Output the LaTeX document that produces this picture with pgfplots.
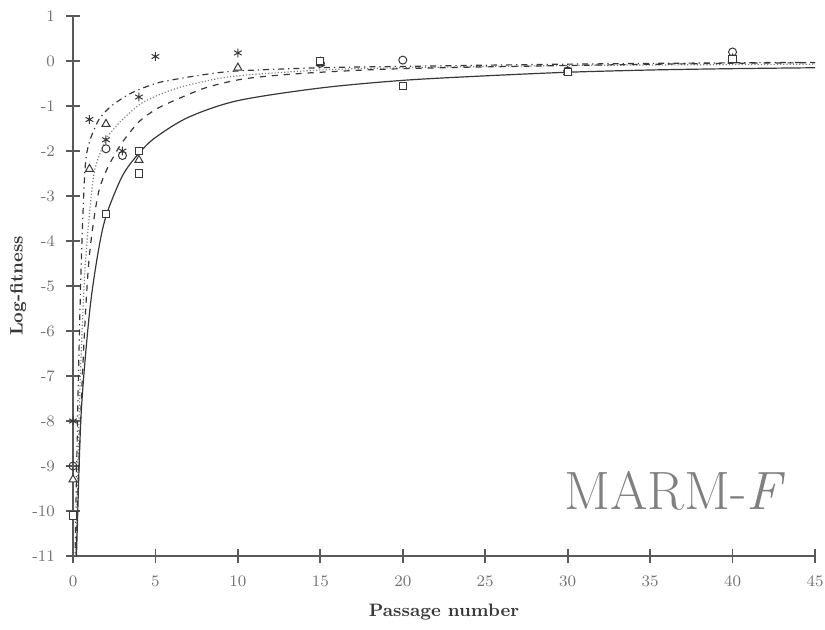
\documentclass[border=0pt]{standalone}
\usepackage{pgfplots}
\pgfplotsset{compat=1.18}
\usetikzlibrary{calc}
\definecolor{ink}{gray}{0.22}
\definecolor{axisgray}{gray}{0.35}
\definecolor{labelgray}{gray}{0.45}
\definecolor{tagcol}{gray}{0.5}

\begin{document}
\begin{tikzpicture}
\begin{axis}[
    name=ax,
    scale only axis,
    width=371pt, height=270pt,
    xmin=0, xmax=45, ymin=-11, ymax=1,
    axis x line=bottom, axis y line=left,
    axis line style={-, line width=1.2pt, axisgray},
    xtick={0,5,...,45}, ytick={-11,-10,...,1},
    yticklabels={-11,-10,-9,-8,-7,-6,-5,-4,-3,-2,-1,0,1},
    tick align=center, major tick length=7pt,
    tick style={line width=0.9pt, axisgray},
    tick label style={font=\footnotesize, text=labelgray},
    xticklabel style={yshift=-3pt},
    yticklabel style={xshift=-2pt},
    xlabel={\textbf{Passage number}},
    ylabel={\textbf{Log-fitness}},
    every axis x label/.style={at={(axis description cs:0.5,-0.104)}, anchor=center},
    every axis y label/.style={at={(axis description cs:-0.074,0.5)}, rotate=90, anchor=center},
    label style={font=\small, text=ink},
    every axis plot/.append style={ink, line width=0.6pt},
    mark options={solid, fill=white, line width=0.5pt},
]
% fitted curves
\addplot[dash dot, smooth, no markers] coordinates {
    (0.1,-11.5) (0.15,-10.5) (0.3,-7.5) (0.5,-4.5) (0.73,-2.4) (1,-1.8)
    (1.5,-1.35) (1.9,-1.15) (2.5,-0.95) (3.6,-0.7) (5,-0.5) (6,-0.42)
    (8,-0.3) (10,-0.22) (15,-0.15) (20,-0.12) (30,-0.07) (40,-0.04) (45,-0.03)
};
\addplot[densely dotted, smooth, no markers, gray] coordinates {
    (0.12,-11.5) (0.2,-10.6) (0.4,-7.5) (0.7,-4.8) (1,-3.4) (1.33,-2.4)
    (2,-1.75) (2.5,-1.5) (3,-1.3) (4.2,-0.93) (6,-0.64) (8,-0.45)
    (10,-0.33) (15,-0.2) (20,-0.15) (30,-0.1) (40,-0.08) (45,-0.07)
};
\addplot[dashed, smooth, no markers] coordinates {
    (0.15,-11.5) (0.2,-10.8) (0.4,-8.5) (0.7,-6) (1,-4.3) (1.5,-3.0)
    (2,-2.45) (2.5,-2.1) (3,-1.8) (4,-1.35) (5,-1.08) (6,-0.9) (8,-0.6)
    (10,-0.42) (12,-0.33) (15,-0.25) (20,-0.17) (30,-0.1) (40,-0.05) (45,-0.04)
};
\addplot[solid, smooth, no markers] coordinates {
    (0.18,-11.5) (0.25,-10.5) (0.5,-7.8) (1,-5.6) (1.5,-4.3) (2,-3.45)
    (3,-2.55) (4,-2.05) (5,-1.7) (7,-1.25) (10,-0.88) (15,-0.6) (20,-0.43)
    (25,-0.33) (30,-0.25) (35,-0.2) (40,-0.17) (45,-0.15)
};
% observations
\addplot[only marks, mark=asterisk, mark size=2.2pt] coordinates {
    (0,-8) (1,-1.3) (2,-1.75) (3,-2.0) (4,-0.8) (5,0.1) (10,0.18)
    (15,0.0) (30,-0.2) (40,0.05)
};
\addplot[only marks, mark=triangle*, mark size=2.3pt] coordinates {
    (0,-9.3) (1,-2.4) (2,-1.4) (4,-2.2) (10,-0.15) (15,-0.05)
    (30,-0.25) (40,0.05)
};
\addplot[only marks, mark=o, mark size=2pt] coordinates {
    (0,-9) (2,-1.95) (3,-2.1) (15,-0.05) (20,0.02) (30,-0.22) (40,0.2)
};
\addplot[only marks, mark=square*, mark size=1.8pt] coordinates {
    (0,-10.1) (2,-3.4) (4,-2.0) (4,-2.5) (15,0.0) (20,-0.55)
    (30,-0.25) (40,0.05)
};
\node[font=\fontsize{27}{30}\selectfont, text=tagcol] at (axis cs:36.5,-9.55)
    {MARM-\textit{F}};
\end{axis}
\pgfresetboundingbox
\path ($(ax.south west)+(-36.5pt,-36.5pt)$) rectangle ($(ax.north east)+(5pt,8pt)$);
\end{tikzpicture}
\end{document}
